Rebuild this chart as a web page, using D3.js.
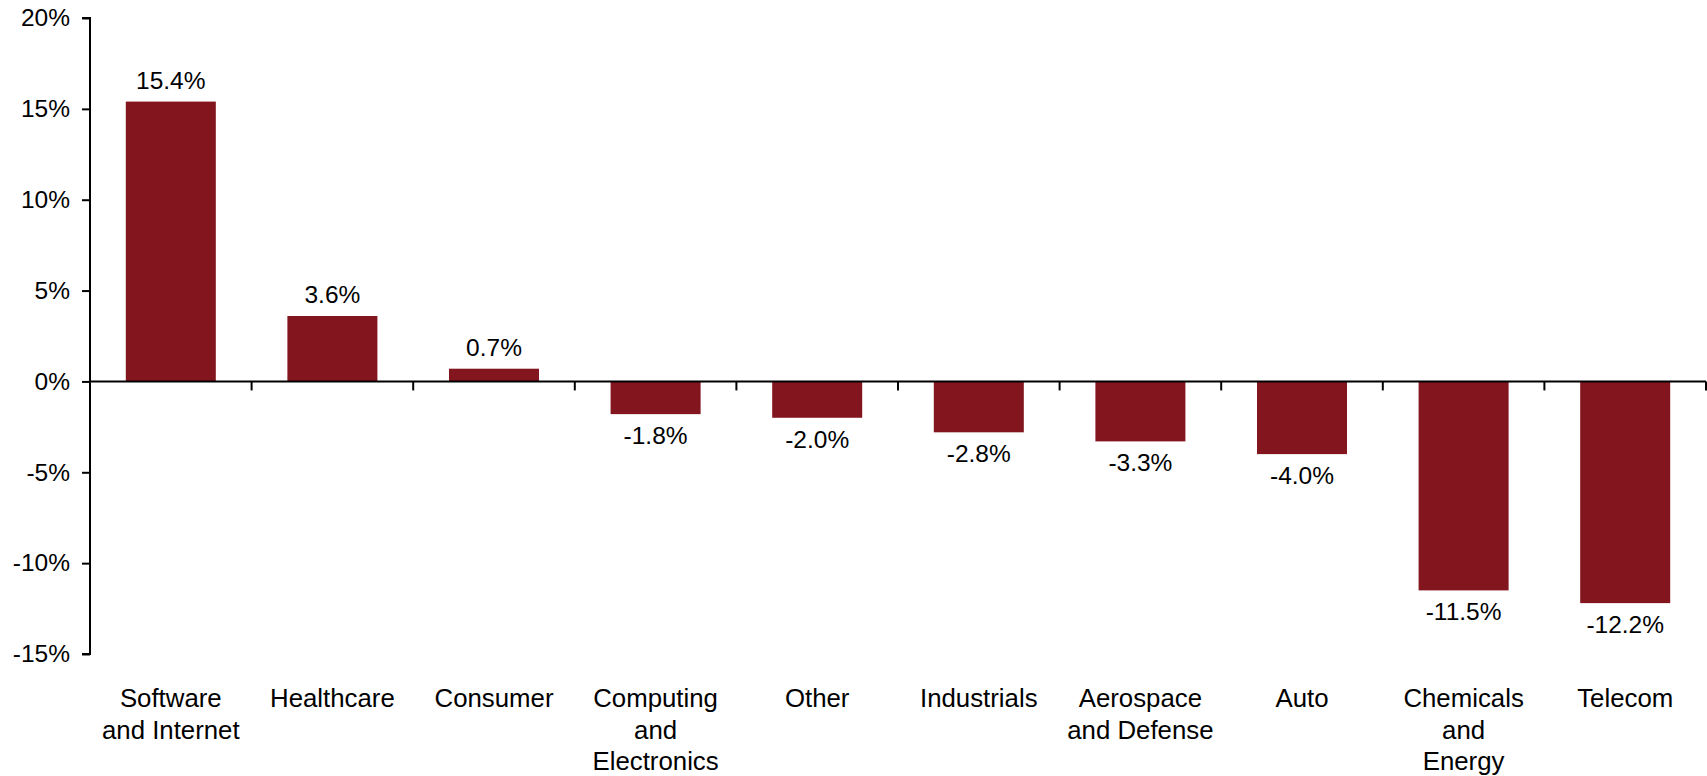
<!DOCTYPE html>
<html>
<head>
<meta charset="utf-8">
<script src="https://cdn.jsdelivr.net/npm/d3@7"></script>
<style>
  html, body { margin: 0; padding: 0; background: #fff; }
  svg { display: block; font-family: "Liberation Sans", Arial, sans-serif; }
</style>
</head>
<body>
<svg id="chart" width="1707" height="776"></svg>
<script>
// Sector returns (%)
const categories = [
  "Software\nand Internet",
  "Healthcare",
  "Consumer",
  "Computing\nand\nElectronics",
  "Other",
  "Industrials",
  "Aerospace\nand Defense",
  "Auto",
  "Chemicals\nand\nEnergy",
  "Telecom"
];
const values = [15.4, 3.6, 0.7, -1.8, -2.0, -2.8, -3.3, -4.0, -11.5, -12.2];
const yTicks = [-15, -10, -5, 0, 5, 10, 15, 20];

const barColor = "#83151f";
const valueFont = 24.5;
const tickFont = 24.5;
const catFont = 25.8;

const svg = d3.select("#chart");
const plotLeft = 90, plotRight = 1706, plotTop = 18, plotBottom = 654;

const x = d3.scaleBand()
  .domain(categories)
  .range([plotLeft, plotRight])
  .paddingInner(0.443)
  .paddingOuter(0.2215);

const y = d3.scaleLinear().domain([-15, 20]).range([plotBottom, plotTop]);

// Bars
svg.append("g")
  .selectAll("rect")
  .data(values)
  .join("rect")
  .attr("x", (d, i) => x(categories[i]))
  .attr("width", x.bandwidth())
  .attr("y", d => y(Math.max(0, d)))
  .attr("height", d => Math.abs(y(d) - y(0)))
  .attr("fill", barColor);

// Value labels
svg.append("g")
  .selectAll("text")
  .data(values)
  .join("text")
  .attr("x", (d, i) => x(categories[i]) + x.bandwidth() / 2)
  .attr("y", d => d >= 0 ? y(d) - 13 : y(d) + 30)
  .attr("text-anchor", "middle")
  .attr("font-size", valueFont)
  .attr("fill", "#000")
  .text(d => d.toFixed(1) + "%");

// Y axis
const yAxis = d3.axisLeft(y)
  .tickValues(yTicks)
  .tickSize(8)
  .tickPadding(12)
  .tickFormat(d => d + "%");
const gy = svg.append("g")
  .attr("transform", `translate(${plotLeft},0)`)
  .call(yAxis);
gy.select(".domain").attr("stroke", "#000").attr("stroke-width", 2)
  .attr("d", `M-8,${plotTop}H0V${plotBottom}H-8`);
gy.selectAll(".tick line").attr("stroke", "#000").attr("stroke-width", 2);
gy.selectAll(".tick text")
  .attr("font-size", tickFont)
  .attr("font-family", "Liberation Sans, Arial, sans-serif")
  .attr("fill", "#000");

// Zero line with category separator ticks
const gx = svg.append("g").attr("transform", `translate(0,${y(0)})`);
gx.append("line")
  .attr("x1", plotLeft).attr("x2", plotRight)
  .attr("stroke", "#000").attr("stroke-width", 2);
const sepX = i => plotLeft + i * x.step();
gx.selectAll("line.sep")
  .data(d3.range(categories.length + 1))
  .join("line")
  .attr("class", "sep")
  .attr("x1", sepX)
  .attr("x2", sepX)
  .attr("y1", 0).attr("y2", 9)
  .attr("stroke", "#000").attr("stroke-width", 2);

// Category labels
const lineH = 31.5;
const labels = svg.append("g")
  .selectAll("text")
  .data(categories)
  .join("text")
  .attr("x", d => x(d) + x.bandwidth() / 2)
  .attr("y", y(-15) + 53)
  .attr("text-anchor", "middle")
  .attr("font-size", catFont)
  .attr("fill", "#000");
labels.each(function(d) {
  const t = d3.select(this);
  d.split("\n").forEach((ln, j) => {
    t.append("tspan")
      .attr("x", x(d) + x.bandwidth() / 2)
      .attr("dy", j === 0 ? 0 : lineH)
      .text(ln);
  });
});
</script>
</body>
</html>
